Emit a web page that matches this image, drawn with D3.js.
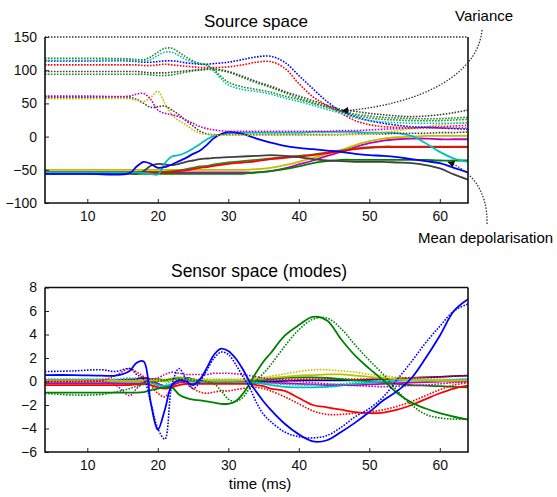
<!DOCTYPE html>
<html>
<head>
<meta charset="utf-8">
<script src="https://cdn.jsdelivr.net/npm/d3@7"></script>
<style>
  body { margin: 0; background: #fff; }
  svg { display: block; font-family: "Liberation Sans", Arial, sans-serif; }
</style>
</head>
<body>
<svg id="chart" width="557" height="497"></svg>
<script>
// time axis (ms) shared by both panels
const xTicks = [10, 20, 30, 40, 50, 60];

// ---- Source space: sample times + series (dotted = variance, solid = mean) ----
const srcTime = [4,10,16,17,18,19,20,21,22,23,24,25,26,27,28,30,32,34,36,38,40,42,44,46,48,50,52,54,56,58,60,62,64];
const srcYTicks = [-100, -50, 0, 50, 100, 150];

const srcVarGreenA = [118,118,117,116,116,120,127,133,133,127,120,114,110,107,100,82,75,71,67,61,56,50,44,38,32,28,26,25,24,24,24,25,26];
const srcVarCyan   = [115,115,115,114,114,116,122,127,127,122,116,112,110,108,98,78,71,68,64,58,53,47,41,35,28,24,22,21,20,20,20,20,20];
const srcVarBlue   = [114,114,114,113,112,112,113,114,114,113,111,110,109,109,110,112,116,120,121,112,92,72,53,38,30,24,20,17,15,14,13,12,11];
const srcVarRed    = [108,108,108,108,107,107,108,109,108,107,106,105,104,104,104,105,108,112,113,103,80,60,47,35,24,18,15,14,13,13,13,13,13];
const srcVarGray   = [98,98,98,98,97,96,96,96,97,98,99,100,101,102,102,98,91,83,76,68,61,54,47,41,38,35,33,31,30,31,33,36,40];
const srcVarGreenB = [94,94,94,94,94,93,92,92,93,95,97,99,100,101,101,97,89,81,74,66,58,51,45,39,34,31,29,28,27,27,27,28,29];
const srcVarMagenta = [61,61,61,64,65,56,40,35,33,30,25,20,15,12,10,8,8,8,8,8,8,8,8,9,9,10,11,12,13,14,15,16,17];
const srcVarYellow = [57,57,57,55,53,59,68,50,33,24,18,10,5,3,2,2,2,2,2,2,2,2,2,3,3,4,6,9,12,15,18,20,22];
const srcVarGrayLow = [59,59,59,56,50,44,45,46,40,33,24,16,8,4,3,3,3,3,3,3,3,3,3,3,4,4,4,5,5,5,6,6,7];

const srcMeanBlue   = [-56,-56,-55,-45,-38,-41,-47,-46,-42,-37,-32,-26,-21,-12,-2,7,4,-3,-9,-14,-17,-19,-21,-23,-26,-28,-29,-31,-34,-37,-40,-47,-54];
const srcMeanCyan   = [-54,-54,-54,-54,-55,-56,-57,-40,-30,-28,-24,-18,-11,-4,1,5,6,6,6,6,6,7,7,7,7,6,6,5,1,-10,-23,-33,-38];
const srcMeanGray   = [-55,-55,-55,-56,-52,-44,-41,-42,-43,-41,-38,-36,-34,-33,-32,-31,-30,-29,-28,-29,-31,-34,-36,-37,-38,-38,-38,-39,-40,-43,-48,-57,-65];
const srcMeanRed    = [-54,-54,-54,-54,-54,-54,-54,-54,-53,-52,-51,-49,-47,-46,-44,-41,-39,-37,-34,-32,-30,-28,-25,-22,-19,-17,-16,-16,-16,-16,-16,-16,-16];
const srcMeanGreenA = [-53,-53,-53,-53,-53,-53,-53,-53,-52,-51,-49,-47,-45,-44,-42,-39,-37,-35,-33,-31,-29,-27,-24,-21,-18,-16,-15,-15,-15,-15,-15,-15,-15];
const srcMeanGreenB = [-56,-56,-56,-56,-56,-56,-56,-56,-56,-56,-56,-56,-56,-56,-56,-56,-56,-54,-52,-49,-45,-40,-37,-35,-35,-35,-35,-35,-35,-35,-36,-36,-36];
const srcMeanYellow = [-50,-50,-50,-50,-50,-50,-50,-50,-50,-50,-50,-50,-50,-50,-50,-50,-50,-49,-47,-43,-38,-32,-26,-20,-13,-7,-3,-1,0,1,1,1,1];
const srcMeanMagenta = [-54,-54,-54,-54,-54,-54,-54,-54,-54,-54,-54,-54,-54,-54,-54,-54,-54,-54,-52,-48,-42,-36,-29,-23,-16,-10,-6,-4,-3,-3,-4,-4,-4];

// ---- Sensor space (modes) ----
const senTime = [4,8,12,14,16,17,18,19,20,21,22,23,24,25,26,27,28,29,30,31,32,33,34,35,36,38,40,42,44,46,48,50,52,54,56,58,60,62,64];
const senYTicks = [-6, -4, -2, 0, 2, 4, 6, 8];

const senBlue2    = [0.1,0.1,0.1,0.1,0.15,0.2,0.3,0.2,-0.2,-0.4,-0.3,0,0.3,0.2,0,0,0,0,0,0,0,0,0,0,0,0.05,0.1,0.1,0.1,0.1,0.1,0.15,0.2,0.25,0.3,0.35,0.4,0.45,0.5];
const senRed2Dot  = [0.05,0.05,0.05,0.1,0.2,0.3,0.3,0,-0.3,-0.4,-0.2,0,0.1,0.1,0,0,0,0,0,0,0,0.05,0.1,0.1,0.1,0.15,0.2,0.2,0.2,0.2,0.2,0.2,0.2,0.25,0.3,0.35,0.4,0.45,0.5];
const senGreen2   = [0,0,0,0,0,0,0.1,0.2,0.2,0.1,0.2,0.3,0.2,0.1,0.05,0,0,0,0,0,0,0.05,0.1,0.15,0.2,0.3,0.35,0.35,0.3,0.2,0.1,0,-0.1,-0.2,-0.3,-0.35,-0.4,-0.45,-0.5];
const senMagenta  = [-0.15,-0.15,-0.15,-0.15,-0.2,-0.2,-0.1,0,-0.2,-0.4,-0.3,-0.1,0,0,0,0,0,0.05,0.05,0.05,0,0,-0.05,-0.1,-0.1,-0.15,-0.2,-0.25,-0.3,-0.3,-0.3,-0.25,-0.2,-0.15,-0.1,-0.05,0,0,0];
const senCyanDot  = [0.2,0.2,0.2,0.2,0.3,0.2,0,-0.3,-0.5,-0.3,0.1,0.3,0.2,0,-0.1,0,0.1,0.1,0.1,0.1,0.05,0,-0.05,-0.1,-0.15,-0.25,-0.3,-0.3,-0.25,-0.2,-0.1,0,0.05,0.1,0.1,0.1,0.1,0.1,0.1];
const senCyan     = [0,0,0,0,0,0,0,-0.1,-0.3,-0.4,-0.2,0,0.1,0,0,0,0,0,0,-0.05,-0.1,-0.1,-0.15,-0.2,-0.3,-0.45,-0.5,-0.5,-0.45,-0.35,-0.2,-0.1,0,0.05,0.1,0.1,0.1,0.15,0.2];
const senYellow   = [0.05,0.05,0.05,0.05,0.05,0.05,0.1,0.1,0.05,0,0.1,0.2,0.2,0.15,0.1,0.1,0.1,0.1,0.1,0.1,0.1,0.15,0.2,0.25,0.3,0.4,0.5,0.55,0.6,0.6,0.5,0.4,0.3,0.2,0.1,0.1,0.05,0.05,0.05];
const senYellowDot = [0.1,0.1,0.1,0.1,0.1,0.1,0.15,0.2,0.2,0.2,0.3,0.4,0.3,0.2,0.2,0.2,0.2,0.2,0.2,0.2,0.2,0.2,0.3,0.35,0.45,0.65,0.85,1.0,1.0,0.9,0.8,0.6,0.5,0.35,0.3,0.25,0.2,0.15,0.15];
const senMagentaDot = [0,0,0,-0.3,-1.2,-0.6,-0.1,0.2,0.3,0.6,0.8,0.7,0.6,0.6,0.6,0.6,0.7,0.7,0.7,0.65,0.6,0.5,0.4,0.3,0.2,0.1,0,-0.1,-0.2,-0.3,-0.35,-0.4,-0.45,-0.4,-0.35,-0.3,-0.2,-0.1,0];
const senRedDot   = [0,0,0.1,0.5,1.1,0.8,0.4,-0.3,-1.0,-1.3,-0.5,0,-0.2,-0.6,-0.9,-1.0,-0.9,-0.8,-0.8,-0.7,-0.6,-0.5,-0.5,-0.6,-0.8,-1.3,-1.9,-2.5,-2.8,-2.8,-2.7,-2.6,-2.4,-2.1,-1.7,-1.2,-0.7,-0.3,-0.1];
const senRed      = [-0.3,-0.3,-0.3,-0.3,-0.3,-0.25,-0.2,-0.3,-0.5,-0.6,-0.5,-0.3,-0.2,-0.2,-0.2,-0.2,-0.2,-0.2,-0.2,-0.2,-0.2,-0.2,-0.3,-0.4,-0.6,-0.8,-1.4,-2.0,-2.2,-2.4,-2.6,-2.7,-2.65,-2.4,-2.0,-1.5,-1.0,-0.6,-0.35];
const senGreenDot = [-1.0,-1.15,-1.1,-0.9,-0.6,-0.4,-0.25,-0.1,0,0.1,0.2,0.2,0.2,0.1,0.1,0,-0.2,-0.8,-1.5,-1.7,-1.4,-0.6,0.1,0.7,1.4,3.0,4.4,5.3,5.4,4.5,3.1,1.8,0.6,-0.8,-2.0,-2.8,-3.1,-3.2,-3.2];
const senGreen    = [-0.95,-0.95,-0.95,-0.95,-0.95,-0.95,-0.9,-0.75,-0.6,-0.5,-0.5,-1.1,-1.4,-1.55,-1.6,-1.7,-1.8,-1.9,-1.9,-1.7,-1.1,-0.2,0.8,1.7,2.4,3.9,4.8,5.5,5.2,3.6,2.2,1.1,0.1,-1.0,-1.8,-2.3,-2.7,-3.0,-3.25];
const senBlueDot  = [0.85,0.9,1.0,0.85,1.1,0.6,0.2,-1.8,-4.0,-4.9,-0.3,1.1,0.2,-0.6,0,1.0,2.0,2.5,2.3,1.5,0.5,-0.5,-1.8,-2.8,-3.4,-4.3,-4.7,-4.8,-4.6,-3.9,-3.0,-2.3,-1.3,0.2,1.7,3.3,4.7,6.0,6.6];
const senBlue     = [0.55,0.55,0.5,0.5,0.9,1.6,1.7,-1.8,-4.1,-2.4,-0.3,0.1,0,-0.3,0.2,1.2,2.3,2.8,2.6,2.0,1.1,0,-0.9,-1.7,-2.4,-3.6,-4.5,-5.1,-5.0,-4.3,-3.5,-2.6,-1.6,-0.8,0.3,2.0,3.9,6.0,7.0];

// matlab-ish line colours
const col = {
  b: "#0000ff", g: "#008000", g2: "#1f8f1f", r: "#ff0000", c: "#00bfbf",
  m: "#bf00bf", y: "#bfbf00", k: "#404040"
};

const srcSeries = [
  {v: srcMeanMagenta, c: col.m}, {v: srcMeanYellow, c: col.y},
  {v: srcMeanGreenB, c: col.g}, {v: srcMeanGreenA, c: col.g2},
  {v: srcMeanRed, c: col.r}, {v: srcMeanGray, c: col.k},
  {v: srcMeanCyan, c: col.c}, {v: srcMeanBlue, c: col.b},
  {v: srcVarGrayLow, c: col.k, dot: true}, {v: srcVarYellow, c: col.y, dot: true},
  {v: srcVarMagenta, c: col.m, dot: true}, {v: srcVarGreenB, c: col.g2, dot: true},
  {v: srcVarGray, c: col.k, dot: true}, {v: srcVarRed, c: col.r, dot: true},
  {v: srcVarBlue, c: col.b, dot: true}, {v: srcVarCyan, c: col.c, dot: true},
  {v: srcVarGreenA, c: col.g2, dot: true}
];

const senSeries = [
  {v: senBlue2, c: "#0000a0"}, {v: senRed2Dot, c: col.r, dot: true},
  {v: senGreen2, c: col.g}, {v: senMagenta, c: col.m},
  {v: senCyanDot, c: col.c, dot: true}, {v: senCyan, c: col.c},
  {v: senYellow, c: col.y}, {v: senYellowDot, c: col.y, dot: true},
  {v: senMagentaDot, c: col.m, dot: true}, {v: senRedDot, c: col.r, dot: true},
  {v: senRed, c: col.r}, {v: senGreenDot, c: col.g, dot: true},
  {v: senGreen, c: col.g}, {v: senBlueDot, c: col.b, dot: true},
  {v: senBlue, c: col.b}
];

var svg = d3.select("#chart");
var x = d3.scaleLinear().domain([4, 64]).range([45, 468]);

// arrow head for the annotations
svg.append("defs").append("marker")
    .attr("id", "arr")
    .attr("viewBox", "0 0 10 10")
    .attr("refX", 9).attr("refY", 5)
    .attr("markerWidth", 8).attr("markerHeight", 7)
    .attr("markerUnits", "userSpaceOnUse")
    .attr("orient", "auto")
  .append("path")
    .attr("d", "M0,0 L10,5 L0,10 z")
    .attr("fill", "#111");

function drawPanel(id, top, bottom, yDomain, yTicks, times, series, dottedTop) {
  var y = d3.scaleLinear().domain(yDomain).range([bottom, top]);
  var g = svg.append("g").attr("class", id);

  g.append("clipPath").attr("id", "clip-" + id)
    .append("rect")
      .attr("x", x.range()[0]).attr("y", top)
      .attr("width", x.range()[1] - x.range()[0]).attr("height", bottom - top);

  var line = d3.line()
      .x(function(d) { return x(d[0]); })
      .y(function(d) { return y(d[1]); })
      .curve(d3.curveCatmullRom.alpha(0.5));

  var lines = g.append("g").attr("clip-path", "url(#clip-" + id + ")");
  series.forEach(function(s) {
    var pts = times.map(function(t, i) { return [t, s.v[i]]; });
    lines.append("path")
        .attr("d", line(pts))
        .attr("fill", "none")
        .attr("stroke", s.c)
        .attr("stroke-width", s.dot ? 1.6 : 1.8)
        .attr("stroke-dasharray", s.dot ? "1.6,1.4" : null);
  });

  var yAxis = g.append("g")
      .attr("transform", "translate(" + x.range()[0] + ",0)")
      .call(d3.axisLeft(y).tickValues(yTicks).tickSize(-4).tickPadding(8));
  var xAxis = g.append("g")
      .attr("transform", "translate(0," + bottom + ")")
      .call(d3.axisBottom(x).tickValues(xTicks).tickSize(-4).tickPadding(8));
  [yAxis, xAxis].forEach(function(a) {
    a.select(".domain").remove();
    a.selectAll("text").attr("font-size", 14).attr("fill", "#111")
        .attr("font-family", "'Liberation Sans', Arial, sans-serif");
    a.selectAll("line").attr("stroke", "#222");
  });

  // box: solid left/bottom/right, top may be dotted
  var x0 = x.range()[0], x1 = x.range()[1];
  g.append("path")
      .attr("d", "M" + x0 + "," + top + "V" + bottom + "H" + x1 + "V" + top)
      .attr("fill", "none").attr("stroke", "#111").attr("stroke-width", 1.6);
  g.append("line")
      .attr("x1", x0).attr("x2", x1).attr("y1", top).attr("y2", top)
      .attr("stroke", dottedTop ? "#333" : "#111")
      .attr("stroke-width", dottedTop ? 1.4 : 1.6)
      .attr("stroke-dasharray", dottedTop ? "1.5,1.5" : null);
  return y;
}

drawPanel("src", 37, 203, [-100, 150], srcYTicks, srcTime, srcSeries, true);
drawPanel("sen", 287.5, 452, [-6, 8], senYTicks, senTime, senSeries, false);

// titles
svg.append("text").attr("x", 256).attr("y", 27).attr("text-anchor", "middle")
    .attr("font-size", 17).text("Source space");
svg.append("text").attr("x", 259).attr("y", 277).attr("text-anchor", "middle")
    .attr("font-size", 17.5).text("Sensor space (modes)");
svg.append("text").attr("x", 260).attr("y", 489).attr("text-anchor", "middle")
    .attr("font-size", 15).text("time (ms)");

// annotations
svg.append("text").attr("x", 455).attr("y", 20.5).attr("font-size", 15).text("Variance");
svg.append("text").attr("x", 418).attr("y", 243).attr("font-size", 15).text("Mean depolarisation");

svg.append("path")
    .attr("d", "M482,30 C478,75 420,105 342,111")
    .attr("fill", "none").attr("stroke", "#333").attr("stroke-width", 1.3)
    .attr("stroke-dasharray", "1.5,1.5").attr("marker-end", "url(#arr)");
svg.append("path")
    .attr("d", "M487,224 C488,190 470,170 448,162")
    .attr("fill", "none").attr("stroke", "#333").attr("stroke-width", 1.3)
    .attr("stroke-dasharray", "1.5,1.5").attr("marker-end", "url(#arr)");
</script>
</body>
</html>
